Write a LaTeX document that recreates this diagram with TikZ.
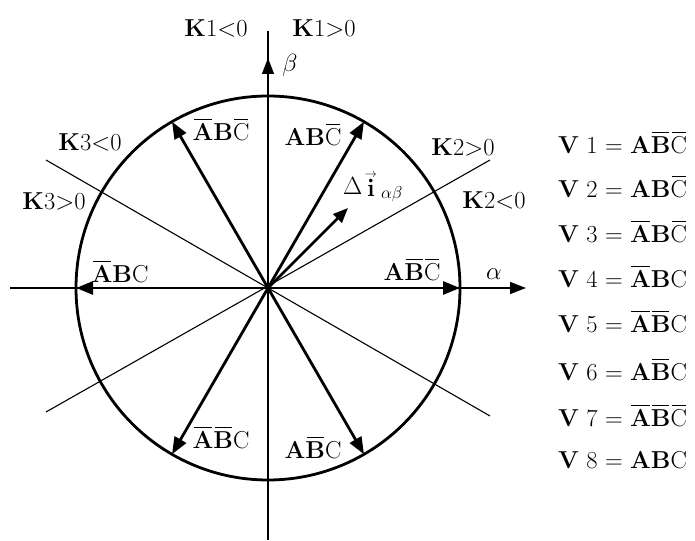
\documentclass[tikz,border=0pt]{standalone}
\usetikzlibrary{arrows.meta,calc}
\newcommand{\ovl}[1]{\setbox0\hbox{#1}\rlap{\kern1.3pt\raisebox{\dimexpr\ht0+3.5pt\relax}{\rule{\dimexpr\wd0-2.6pt\relax}{1.1pt}}}\box0}
\newcommand{\bA}{\textbf{A}}
\newcommand{\bB}{\textbf{B}}
\newcommand{\oA}{\ovl{\bfseries A}}
\newcommand{\oB}{\ovl{\bfseries B}}
\newcommand{\oC}{\ovl{C}}
\begin{document}
\begin{tikzpicture}[x=1pt,y=1pt,
  thinline/.style={line width=1.1pt},
  thickline/.style={line width=2.8pt},
  vec/.style={line width=2.8pt,-{Triangle[length=17pt,width=13pt]}},
  vecsmall/.style={line width=2.6pt,-{Triangle[length=15pt,width=12pt]}},
  axisarrow/.style={line width=1.1pt,-{Triangle[length=16pt,width=12pt]}},
  lbl/.style={inner sep=0pt,font=\fontsize{24.5}{28}\selectfont},
  tbl/.style={lbl,anchor=west}]
\useasboundingbox (0,0) rectangle (695,540);
\coordinate (O) at (268,252);
% axes
\coordinate (xl) at (10,252);
\coordinate (xr) at (526,252);
\coordinate (yb) at (268,0);
\coordinate (yt) at (268,509);
\coordinate (ya) at (268,482);
\coordinate (yab) at (268,460);
\draw[axisarrow] (xl) -- (xr);
\draw[thinline] (yb) -- (yt);
\draw[axisarrow] (yab) -- (ya);
% K lines
\coordinate (k2a) at (46,128);
\coordinate (k2b) at (490,380);
\coordinate (k3a) at (46,380);
\coordinate (k3b) at (490,124);
\draw[thinline] (k2a) -- (k2b);
\draw[thinline] (k3a) -- (k3b);
% circle
\draw[thickline] (O) circle (192);
% vectors
\foreach \a/\n in {0/v0,60/v60,120/v120,180/v180,240/v240,300/v300}{
  \coordinate (\n) at ($(O)+(\a:192)$);
}
\draw[vec] (O) -- (v0);
\draw[vec] (O) -- (v60);
\draw[vec] (O) -- (v120);
\draw[vec] (O) -- (v180);
\draw[vec] (O) -- (v240);
\draw[vec] (O) -- (v300);
\coordinate (di) at (348,332);
\draw[vecsmall] (O) -- (di);
% labels
\node[lbl] (k1n) at (216,512) {\textbf{K}1$<$0};
\node[lbl] (k1p) at (324,512) {\textbf{K}1$>$0};
\node[lbl] (beta) at (290,475) {$\beta$};
\node[lbl] (alpha) at (494,266) {$\alpha$};
\node[lbl] (k3n) at (90,398) {\textbf{K}3$<$0};
\node[lbl] (k3p) at (54,339) {\textbf{K}3$>$0};
\node[lbl] (k2p) at (463,393) {\textbf{K}2$>$0};
\node[lbl] (k2n) at (494,340) {\textbf{K}2$<$0};
\node[lbl] (dil) at (373,353) {$\Delta\mkern2mu{\stackrel{\scriptscriptstyle\rightarrow}{\mathbf{i}}}\,_{\alpha\beta}$};
\node[lbl] (l120) at (221,410) {\oA\bB\oC};
\node[lbl] (l60) at (313,405) {\bA\bB\oC};
\node[lbl] (l180) at (120,268) {\oA\bB C};
\node[lbl] (l0) at (412,270) {\bA\oB\oC};
\node[lbl] (l240) at (221,102) {\oA\oB C};
\node[lbl] (l300) at (313,92) {\bA\oB C};
% table
\node[tbl] (t1) at (558,397) {\textbf{V} 1 = \bA\oB\oC};
\node[tbl] (t2) at (558,353) {\textbf{V} 2 = \bA\bB\oC};
\node[tbl] (t3) at (558,308) {\textbf{V} 3 = \oA\bB\oC};
\node[tbl] (t4) at (558,263) {\textbf{V} 4 = \oA\bB C};
\node[tbl] (t5) at (558,218) {\textbf{V} 5 = \oA\oB C};
\node[tbl] (t6) at (558,170) {\textbf{V} 6 = \bA\oB C};
\node[tbl] (t7) at (558,124) {\textbf{V} 7 = \oA\oB\oC};
\node[tbl] (t8) at (558,80) {\textbf{V} 8 = \bA\bB C};
\end{tikzpicture}
\end{document}
